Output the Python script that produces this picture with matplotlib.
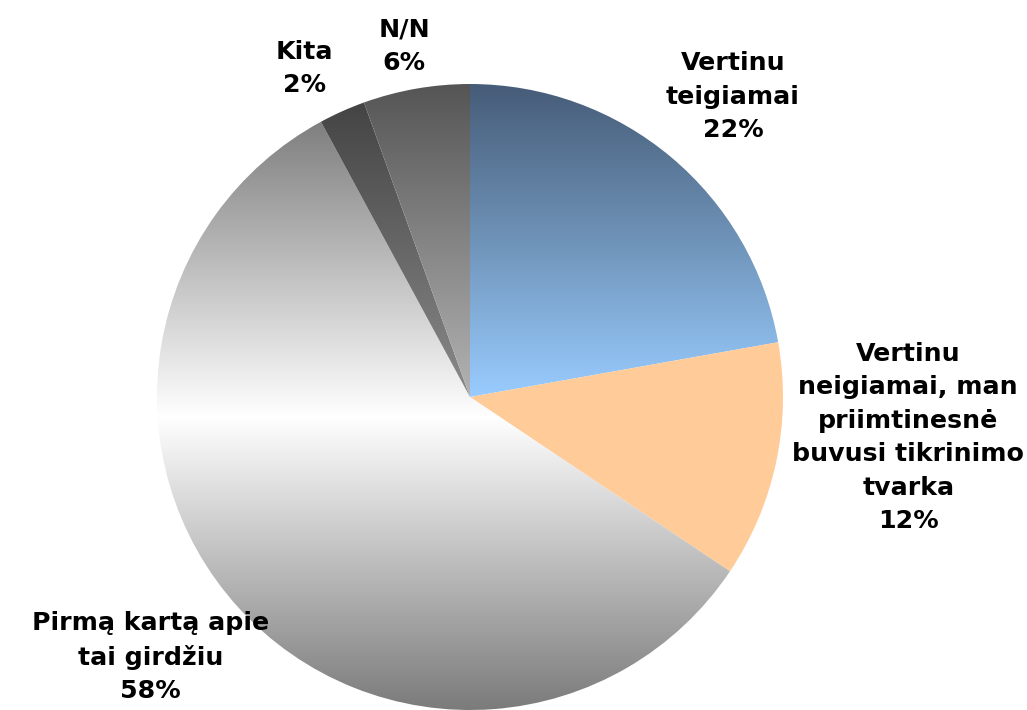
import numpy as np
import matplotlib
matplotlib.use('Agg')
import matplotlib.pyplot as plt
from matplotlib.colors import LinearSegmentedColormap

# slice data (clockwise from 12 o'clock)
labels = ["Vertinu\nteigiamai", "Vertinu\nneigiamai, man\npriimtinesnė\nbuvusi tikrinimo\ntvarka",
          "Pirmą kartą apie\ntai girdžiu", "Kita", "N/N"]
values = [22.2, 12.2, 57.7, 2.4, 5.5]
shown_pct = [22, 12, 58, 2, 6]

# gradient stops per slice, top -> bottom
grads = [["#465c78", "#6f93b8", "#99ccff"],
         ["#ffcc99", "#ffcc99"],
         ["#7f7f7f", "#ffffff", "#7a7a7a"],
         ["#444444", "#8a8a8a"],
         ["#555555", "#b3b3b3"]]

# label centres in axes data units (pie radius = 1)
label_xy = [(0.84, 0.96), (1.40, -0.13), (-1.02, -0.83), (-0.53, 1.05), (-0.21, 1.12)]

fig = plt.figure(figsize=(10.27, 7.10), dpi=100)
ax = fig.add_axes([0, 0, 1, 1])
R = 313.0
xl = (-470 / R, (1027 - 470) / R)
yl = (-(710 - 397) / R, 397 / R)

wedges, _ = ax.pie(values, startangle=90, counterclock=False, radius=1.0,
                   colors=['none'] * len(values),
                   wedgeprops=dict(linewidth=0))

for w, g in zip(wedges, grads):
    verts = w.get_path().vertices
    x0, x1 = verts[:, 0].min(), verts[:, 0].max()
    y0, y1 = verts[:, 1].min(), verts[:, 1].max()
    cmap = LinearSegmentedColormap.from_list("g", g)
    img = np.linspace(0, 1, 256).reshape(-1, 1)
    im = ax.imshow(img, cmap=cmap, extent=(x0, x1, y0, y1), origin='upper',
                   aspect='auto', interpolation='bilinear', zorder=1)
    im.set_clip_path(w)

ax.set_xlim(*xl)
ax.set_ylim(*yl)
ax.set_aspect('equal')
ax.axis('off')

for lab, p, (lx, ly) in zip(labels, shown_pct, label_xy):
    ax.text(lx, ly, lab + "\n" + str(p) + "%", ha='center', va='center',
            fontsize=18.2, fontweight='bold', family='DejaVu Sans',
            linespacing=1.5, zorder=3)

fig.savefig("out.png", dpi=100)
